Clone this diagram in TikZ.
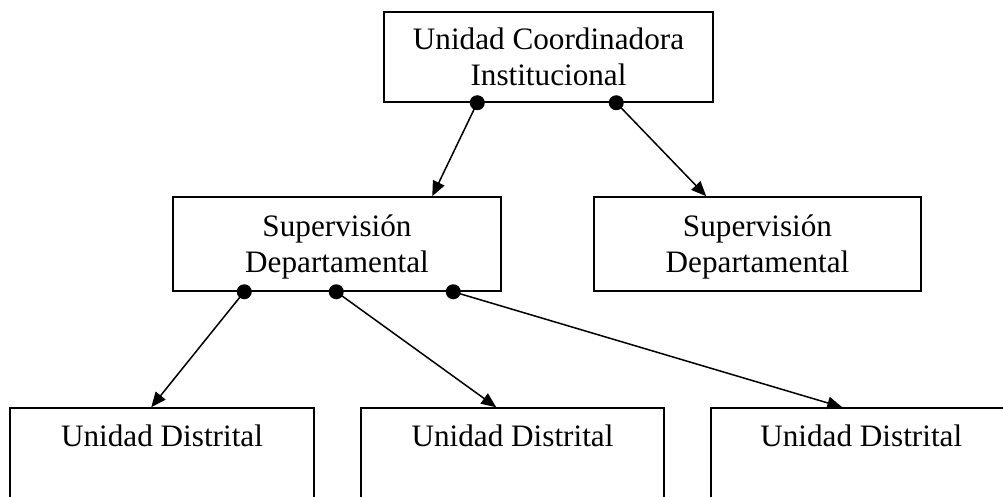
\documentclass[tikz,border=0pt]{standalone}
\usepackage{fontspec}
\setmainfont{Liberation Serif}
\usetikzlibrary{arrows.meta,calc}
\begin{document}
\begin{tikzpicture}[x=1pt,y=-1pt, line width=1.5pt,
  lbl/.style={font=\fontsize{31.2}{36}\selectfont, inner sep=0pt, align=center},
  box/.style={draw, rectangle, inner sep=0pt, lbl},
  conn/.style={-{Triangle[length=15pt,width=12.5pt]}},
  dotr/.style={fill=black}]
\useasboundingbox (0,0) rectangle (1003,497);
\clip (0,0) rectangle (1003,497);
% boxes
\node[box, minimum width=329pt, minimum height=90pt] (top) at (548.5,57) {Unidad Coordinadora\\Institucional};
\node[box, minimum width=328pt, minimum height=94pt] (supL) at (337,244) {};
\node[box, minimum width=327pt, minimum height=94pt] (supR) at (757.5,244) {};
\node[lbl] (supLt) at ($(supL.center)+(0,3)$) {Supervisión\\Departamental};
\node[lbl] (supRt) at ($(supR.center)+(0,3)$) {Supervisión\\Departamental};
\node[box, minimum width=304pt, minimum height=120pt] (d1) at (162,468) {};
\node[box, minimum width=303pt, minimum height=120pt] (d2) at (512.5,468) {};
\node[box, minimum width=400pt, minimum height=120pt] (d3) at (911,468) {};
\node[lbl, anchor=base] (d1t) at ($(d1.north)+(0,39)$) {Unidad Distrital};
\node[lbl, anchor=base] (d2t) at ($(d2.north)+(0,39)$) {Unidad Distrital};
\node[lbl, anchor=base] (d3t) at ($(d3.north west)+(151,39)$) {Unidad Distrital};
% connector points
\coordinate (t1) at ($(top.south west)+(94,0)$);
\coordinate (t2) at ($(top.south west)+(233,0)$);
\coordinate (eL) at ($(supL.north west)+(260,0)$);
\coordinate (eR) at ($(supR.north west)+(113,0)$);
\coordinate (s1) at ($(supL.south west)+(72,0)$);
\coordinate (s2) at ($(supL.south west)+(164,0)$);
\coordinate (s3) at ($(supL.south west)+(281,0)$);
\coordinate (e1) at ($(d1.north west)+(142,0)$);
\coordinate (e2) at ($(d2.north west)+(136,0)$);
\coordinate (e3) at ($(d3.north west)+(132,0)$);
% connectors
\draw[conn] (t1) -- (eL);
\draw[conn] (t2) -- (eR);
\draw[conn] (s1) -- (e1);
\draw[conn] (s2) -- (e2);
\draw[conn] (s3) -- (e3);
% dots
\foreach \p in {t1,t2,s1,s2,s3} \fill[dotr] (\p) circle (7.5pt);
\end{tikzpicture}
\end{document}
